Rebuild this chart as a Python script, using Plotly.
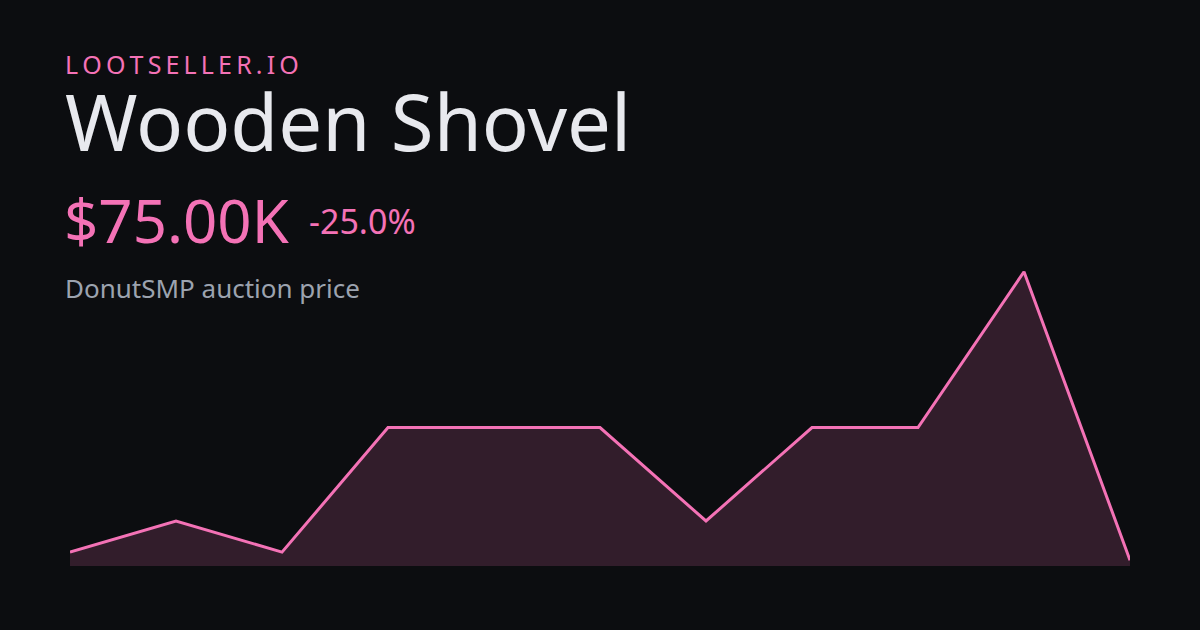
import plotly.graph_objects as go

# Data (values in thousands of $)
points = list(range(11))
prices_k = [75.7, 78.4, 75.7, 86.5, 86.5, 86.5, 78.4, 86.5, 86.5, 100.0, 75.0]

brand = "LOOTSELLER.IO"
item_name = "Wooden Shovel"
price_label = "$75.00K"
change_label = "-25.0%"
subtitle = "DonutSMP auction price"

BG = "#0c0d10"
PINK = "#f472b6"
W, H = 1200, 630
ML, MR, MT, MB = 70, 70, 266, 64
PW, PH = W - ML - MR, H - MT - MB

def px(x):
    return (x - ML) / PW

def py(y):
    return (H - MB - y) / PH

fig = go.Figure()
fig.add_trace(go.Scatter(
    x=points, y=prices_k, mode="lines",
    line=dict(color=PINK, width=3),
    fill="tozeroy", fillcolor="rgba(244,114,182,0.165)",
    hoverinfo="skip", showlegend=False,
))

FONT = "Noto Sans"
thin = "\u2009"
spaced_brand = thin.join(list(brand))

anns = [
    dict(text=spaced_brand, x=px(63), y=py(64), size=25, color=PINK),
    dict(text=item_name, x=px(63), y=py(121), size=78, color="#e8e9ee"),
    dict(text=price_label, x=px(62), y=py(220), size=60, color=PINK),
    dict(text=change_label, x=px(307), y=py(221), size=34, color=PINK),
    dict(text=subtitle, x=px(63), y=py(287.5), size=26, color="#9ca3af"),
]
annotations = []
for a in anns:
    annotations.append(dict(
        text=a["text"], x=a["x"], y=a["y"], xref="paper", yref="paper",
        xanchor="left", yanchor="middle", showarrow=False,
        font=dict(family=FONT, size=a["size"], color=a["color"]),
    ))

fig.update_layout(
    width=W, height=H,
    paper_bgcolor=BG, plot_bgcolor=BG,
    margin=dict(l=ML, r=MR, t=MT, b=MB, pad=0),
    xaxis=dict(range=[0, 10], visible=False, fixedrange=True),
    yaxis=dict(range=[74.5, 100.5], visible=False, fixedrange=True),
    annotations=annotations,
    showlegend=False,
)

fig.write_html(
    "out.html",
    config={"displayModeBar": False},
    post_script="document.body.style.margin='0';document.body.style.background='#0c0d10';document.body.style.overflow='hidden';",
)
